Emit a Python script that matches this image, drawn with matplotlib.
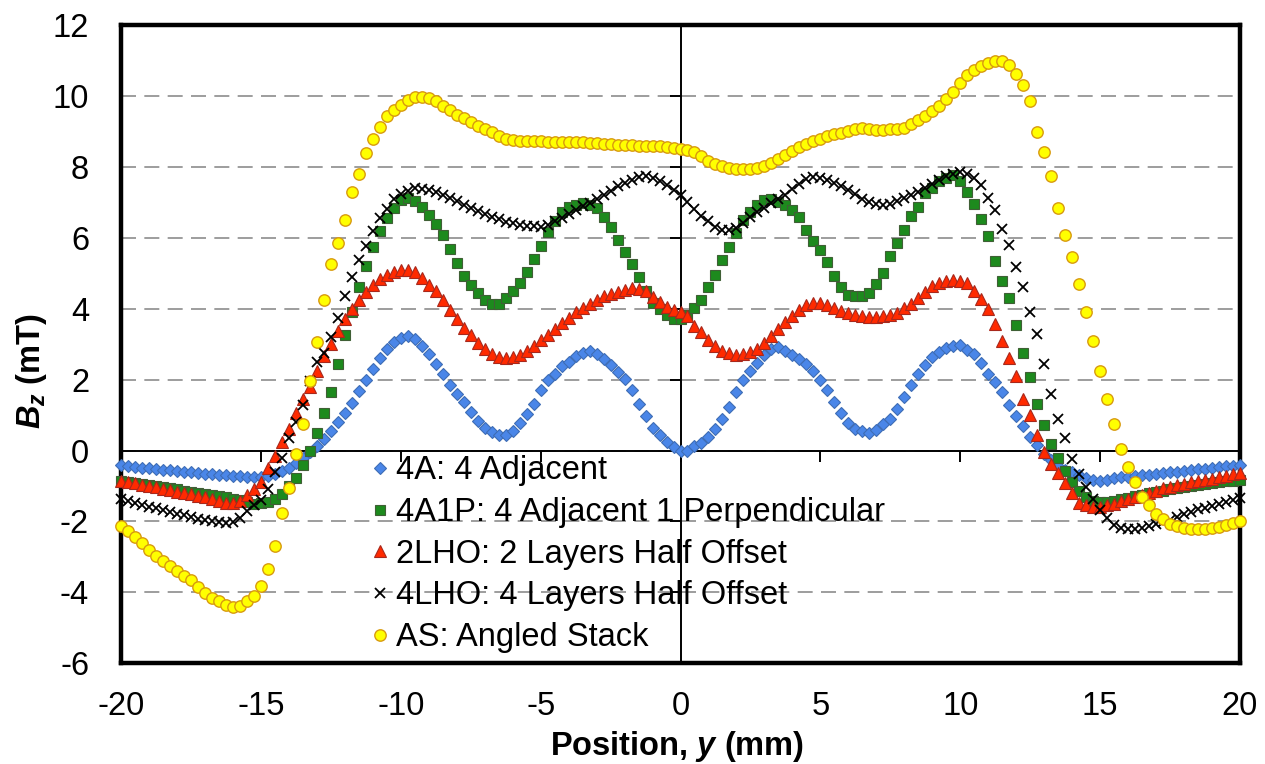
import numpy as np
import matplotlib
matplotlib.use('Agg')
import matplotlib.pyplot as plt

# measurement positions along y (mm), one every 0.25 mm
position = np.arange(-80, 81) * 0.25

# Bz (mT), left to right
bz_4a = [
    -0.42, -0.44, -0.46, -0.48, -0.50, -0.52, -0.54, -0.56, -0.58, -0.60,
    -0.61, -0.63, -0.65, -0.66, -0.68, -0.70, -0.72, -0.73, -0.75, -0.76, -0.76,
    -0.72, -0.66, -0.58, -0.48, -0.36, -0.22, -0.05, 0.12, 0.32, 0.55,
    0.80, 1.05, 1.35, 1.68, 1.98, 2.30, 2.60, 2.85, 3.05, 3.18,
    3.22, 3.14, 2.95, 2.72, 2.45, 2.15, 1.85, 1.60, 1.38, 1.10,
    0.82, 0.64, 0.52, 0.44, 0.45, 0.56, 0.78, 1.02, 1.30, 1.70,
    1.98, 2.15, 2.38, 2.50, 2.66, 2.75, 2.80, 2.72, 2.58, 2.42,
    2.22, 2.02, 1.70, 1.32, 0.98, 0.64, 0.44, 0.24, 0.10, 0.00,
    0.00, 0.12, 0.22, 0.37, 0.60, 0.90, 1.22, 1.66, 2.00, 2.24,
    2.48, 2.70, 2.87, 2.92, 2.82, 2.70, 2.58, 2.44, 2.24, 1.98,
    1.70, 1.37, 1.05, 0.78, 0.62, 0.54, 0.50, 0.58, 0.74, 0.90,
    1.18, 1.52, 1.86, 2.15, 2.42, 2.65, 2.79, 2.88, 2.95, 2.97,
    2.84, 2.72, 2.48, 2.16, 1.93, 1.64, 1.28, 0.96, 0.70, 0.38,
    0.15, -0.10, -0.28, -0.44, -0.55, -0.62, -0.70, -0.77, -0.82, -0.85,
    -0.83, -0.78, -0.76, -0.74, -0.72, -0.70, -0.68, -0.66, -0.64, -0.62,
    -0.60, -0.57, -0.56, -0.53, -0.51, -0.49, -0.47, -0.45, -0.43, -0.40,
]

bz_4a1p = [
    -0.86, -0.89, -0.92, -0.95, -0.98, -1.01, -1.04, -1.07, -1.10, -1.13,
    -1.16, -1.19, -1.22, -1.25, -1.28, -1.32, -1.36, -1.41, -1.46, -1.50, -1.49,
    -1.44, -1.36, -1.22, -1.00, -0.78, -0.42, -0.02, 0.48, 1.05, 1.65,
    2.45, 3.25, 3.92, 4.62, 5.20, 5.75, 6.20, 6.55, 6.85, 7.08,
    7.12, 7.05, 6.88, 6.65, 6.38, 6.08, 5.68, 5.30, 4.92, 4.68,
    4.45, 4.25, 4.14, 4.13, 4.30, 4.50, 4.72, 5.05, 5.40, 5.78,
    6.17, 6.47, 6.72, 6.88, 6.94, 6.97, 6.94, 6.84, 6.60, 6.32,
    5.95, 5.60, 5.25, 4.90, 4.50, 4.15, 4.00, 3.82, 3.72, 3.70,
    3.83, 4.02, 4.24, 4.60, 4.95, 5.38, 5.73, 6.15, 6.50, 6.73,
    6.93, 7.06, 7.10, 7.02, 6.94, 6.80, 6.60, 6.22, 5.92, 5.65,
    5.32, 4.93, 4.60, 4.40, 4.35, 4.35, 4.45, 4.70, 5.02, 5.50,
    5.86, 6.22, 6.62, 6.88, 7.26, 7.42, 7.60, 7.70, 7.78, 7.60,
    7.30, 6.96, 6.52, 6.05, 5.36, 4.78, 4.30, 3.55, 2.76, 2.08,
    1.32, 0.72, 0.18, -0.22, -0.58, -0.89, -1.13, -1.32, -1.42, -1.46,
    -1.45, -1.42, -1.37, -1.33, -1.29, -1.25, -1.21, -1.17, -1.13, -1.09,
    -1.06, -1.02, -0.99, -0.96, -0.94, -0.91, -0.89, -0.87, -0.85, -0.83,
]

bz_2lho = [
    -0.85, -0.88, -0.92, -0.96, -1.00, -1.04, -1.08, -1.12, -1.16, -1.20,
    -1.24, -1.28, -1.32, -1.37, -1.42, -1.47, -1.47, -1.42, -1.26, -1.10, -0.88,
    -0.50, -0.15, 0.25, 0.60, 1.05, 1.45, 1.80, 2.25, 2.68, 3.00,
    3.36, 3.70, 4.00, 4.24, 4.47, 4.68, 4.83, 4.95, 5.04, 5.08,
    5.09, 5.03, 4.87, 4.68, 4.49, 4.25, 3.97, 3.72, 3.46, 3.27,
    3.03, 2.86, 2.72, 2.64, 2.62, 2.64, 2.70, 2.82, 2.96, 3.12,
    3.27, 3.42, 3.59, 3.75, 3.90, 4.03, 4.14, 4.24, 4.35, 4.42,
    4.48, 4.54, 4.58, 4.57, 4.50, 4.32, 4.18, 4.05, 3.96, 3.90,
    3.80, 3.50, 3.33, 3.13, 2.95, 2.82, 2.74, 2.70, 2.72, 2.77,
    2.87, 3.04, 3.24, 3.44, 3.63, 3.79, 3.96, 4.10, 4.16, 4.16,
    4.11, 4.03, 3.95, 3.88, 3.82, 3.79, 3.78, 3.78, 3.79, 3.81,
    3.88, 4.01, 4.14, 4.30, 4.48, 4.63, 4.72, 4.77, 4.80, 4.78,
    4.72, 4.50, 4.28, 4.00, 3.56, 3.08, 2.62, 2.10, 1.44, 1.00,
    0.45, -0.05, -0.37, -0.63, -0.92, -1.20, -1.47, -1.55, -1.60, -1.58,
    -1.55, -1.50, -1.43, -1.37, -1.31, -1.25, -1.19, -1.13, -1.07, -1.02,
    -0.98, -0.94, -0.90, -0.86, -0.83, -0.79, -0.75, -0.71, -0.67, -0.64,
]

bz_4lho = [
    -1.38, -1.43, -1.48, -1.53, -1.58, -1.63, -1.68, -1.73, -1.78, -1.83,
    -1.88, -1.92, -1.96, -2.00, -2.03, -2.04, -2.02, -1.90, -1.72, -1.55, -1.40,
    -1.10, -0.60, -0.20, 0.35, 0.80, 1.28, 1.95, 2.50, 2.76, 3.20,
    3.75, 4.35, 4.90, 5.38, 5.78, 6.18, 6.55, 6.82, 7.10, 7.25,
    7.33, 7.40, 7.39, 7.35, 7.28, 7.21, 7.13, 7.05, 6.94, 6.84,
    6.76, 6.68, 6.60, 6.53, 6.46, 6.41, 6.36, 6.34, 6.33, 6.32,
    6.37, 6.48, 6.57, 6.67, 6.79, 6.90, 6.97, 7.09, 7.21, 7.32,
    7.45, 7.55, 7.63, 7.71, 7.74, 7.68, 7.60, 7.50, 7.36, 7.22,
    7.00, 6.82, 6.63, 6.47, 6.31, 6.22, 6.22, 6.28, 6.42, 6.58,
    6.73, 6.85, 6.97, 7.09, 7.22, 7.38, 7.53, 7.65, 7.71, 7.70,
    7.64, 7.56, 7.46, 7.34, 7.23, 7.10, 7.02, 6.95, 6.93, 6.96,
    7.04, 7.12, 7.20, 7.30, 7.41, 7.53, 7.64, 7.74, 7.80, 7.85,
    7.80, 7.68, 7.50, 7.12, 6.78, 6.24, 5.80, 5.17, 4.60, 3.92,
    3.30, 2.45, 1.60, 0.90, 0.34, -0.23, -0.66, -1.02, -1.38, -1.67,
    -1.90, -2.09, -2.18, -2.21, -2.21, -2.19, -2.14, -2.08, -2.02, -1.95,
    -1.88, -1.80, -1.73, -1.66, -1.61, -1.56, -1.51, -1.45, -1.39, -1.33,
]

bz_as = [
    -2.12, -2.27, -2.44, -2.62, -2.80, -2.97, -3.12, -3.25, -3.40, -3.53,
    -3.64, -3.85, -4.03, -4.15, -4.26, -4.36, -4.42, -4.38, -4.26, -4.10, -3.82,
    -3.35, -2.70, -1.75, -1.05, -0.10, 0.75, 1.95, 3.05, 4.25, 5.25,
    5.85, 6.50, 7.30, 7.80, 8.40, 8.78, 9.12, 9.43, 9.60, 9.76,
    9.89, 9.97, 9.98, 9.94, 9.85, 9.73, 9.61, 9.47, 9.37, 9.27,
    9.17, 9.08, 8.98, 8.88, 8.80, 8.76, 8.73, 8.72, 8.72, 8.72,
    8.71, 8.71, 8.71, 8.71, 8.71, 8.70, 8.69, 8.68, 8.66, 8.64,
    8.63, 8.62, 8.61, 8.60, 8.60, 8.60, 8.59, 8.57, 8.54, 8.50,
    8.48, 8.41, 8.30, 8.18, 8.09, 8.03, 7.97, 7.94, 7.94, 7.95,
    7.98, 8.02, 8.10, 8.22, 8.33, 8.45, 8.56, 8.66, 8.73, 8.80,
    8.87, 8.92, 8.97, 9.02, 9.07, 9.10, 9.06, 9.05, 9.05, 9.06,
    9.08, 9.11, 9.20, 9.32, 9.45, 9.58, 9.72, 9.92, 10.12, 10.36,
    10.60, 10.75, 10.85, 10.92, 10.98, 10.99, 10.87, 10.62, 10.30, 9.86,
    9.00, 8.42, 7.75, 6.85, 6.08, 5.45, 4.69, 3.92, 3.08, 2.25,
    1.46, 0.75, 0.05, -0.46, -0.90, -1.30, -1.55, -1.78, -1.94, -2.08,
    -2.14, -2.19, -2.21, -2.21, -2.21, -2.19, -2.15, -2.10, -2.05, -2.00,
]

labels = [
    '4A: 4 Adjacent',
    '4A1P: 4 Adjacent 1 Perpendicular',
    '2LHO: 2 Layers Half Offset',
    '4LHO: 4 Layers Half Offset',
    'AS: Angled Stack',
]

x_ticks = [-20, -15, -10, -5, 0, 5, 10, 15, 20]
y_ticks = [-6, -4, -2, 0, 2, 4, 6, 8, 10, 12]

styles = [
    dict(marker='D', ms=6.2, mfc='#4a86e8', mec='#3e6db5', mew=0.8),
    dict(marker='s', ms=6.8, mfc='#1d8a1d', mec='#3f5f35', mew=0.8),
    dict(marker='^', ms=8.8, mfc='#ff2a00', mec='#a8281c', mew=0.8),
    dict(marker='x', ms=7.0, color='black', mew=1.3),
    dict(marker='o', ms=8.2, mfc='#ffff00', mec='#d89a10', mew=1.0),
]

plt.rcParams['font.family'] = ['Liberation Sans', 'DejaVu Sans']
plt.rcParams['axes.unicode_minus'] = False
plt.rcParams['mathtext.fontset'] = 'custom'
plt.rcParams['mathtext.it'] = 'Liberation Sans:bold:italic'
plt.rcParams['mathtext.rm'] = 'Liberation Sans:bold'
plt.rcParams['mathtext.bf'] = 'Liberation Sans:bold'

fig = plt.figure(figsize=(12.65, 7.64), dpi=100)
ax = fig.add_axes([0.0957, 0.132, 0.8845, 0.835])

for name, vals, st in zip(labels, [bz_4a, bz_4a1p, bz_2lho, bz_4lho, bz_as], styles):
    ax.plot(position, vals, linestyle='none', label=name, clip_on=False, zorder=3, **st)

ax.set_xlim(x_ticks[0], x_ticks[-1])
ax.set_ylim(y_ticks[0], y_ticks[-1])
ax.set_xticks(x_ticks)
ax.set_yticks(y_ticks)
ax.tick_params(axis='both', length=0, labelsize=23.5)
ax.tick_params(axis='x', pad=20)
ax.tick_params(axis='y', pad=23)

for s in ax.spines.values():
    s.set_linewidth(3.2)

ax.set_axisbelow(True)
ax.yaxis.grid(True, color='#8c8c8c', linewidth=1.2, linestyle=(0, (9, 5)))

# axes crossing at zero (Excel style), ticks on the zero lines
y0 = (0 - y_ticks[0]) / (y_ticks[-1] - y_ticks[0])
x0 = (0 - x_ticks[0]) / (x_ticks[-1] - x_ticks[0])
secx = ax.secondary_xaxis(y0)
secx.set_alignment('bottom')
secx.set_xticks(x_ticks)
secx.tick_params(direction='out', length=8, width=1.4, labelbottom=False, labeltop=False)
secy = ax.secondary_yaxis(x0)
secy.set_alignment('left')
secy.set_yticks(y_ticks)
secy.tick_params(direction='out', length=8, width=1.4, labelleft=False, labelright=False)
for sec in (secx, secy):
    sec.set_zorder(1)
    for s in sec.spines.values():
        s.set_linewidth(1.4)

ax.set_xlabel(r'Position, $y$ (mm)', fontsize=23.5, fontweight='bold')
ax.set_ylabel(r'$B_z$ (mT)', fontsize=23.5, fontweight='bold')
ax.xaxis.set_label_coords(0.497, -0.103)
ax.yaxis.set_label_coords(-0.064, 0.458)

ax.legend(loc='upper left', bbox_to_anchor=(0.224, 0.326), frameon=False,
          fontsize=23.5, handlelength=0.5, handletextpad=0.25, borderpad=0,
          borderaxespad=0, labelspacing=0.33, numpoints=1)

fig.savefig('out.png', dpi=100)
